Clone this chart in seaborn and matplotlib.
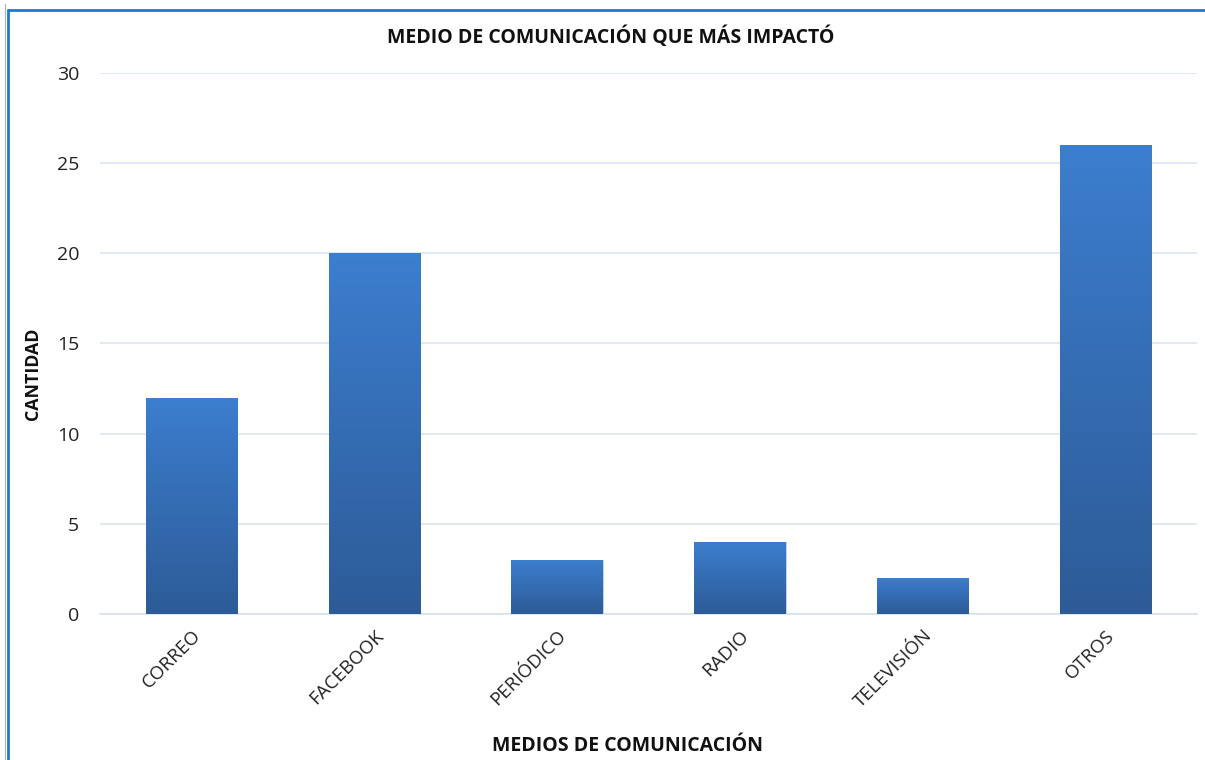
import numpy as np
import pandas as pd
import matplotlib
matplotlib.use("Agg")
import matplotlib.pyplot as plt
import seaborn as sns
from matplotlib.colors import LinearSegmentedColormap
from matplotlib.lines import Line2D

categories = ["CORREO", "FACEBOOK", "PERIÓDICO", "RADIO", "TELEVISIÓN", "OTROS"]
values = [12, 20, 3, 4, 2, 26]
yticks = [0, 5, 10, 15, 20, 25, 30]

title = "MEDIO DE COMUNICACIÓN QUE MÁS IMPACTÓ"
xlabel = "MEDIOS DE COMUNICACIÓN"
ylabel = "CANTIDAD"

sns.set_theme(style="white")
plt.rcParams['font.family'] = ['Open Sans', 'DejaVu Sans']

df = pd.DataFrame({"medio": categories, "cantidad": values})

fig = plt.figure(figsize=(12.05, 7.6), dpi=100)
ax = fig.add_axes([100/1205, 1-614/760, 1097/1205, (614-73)/760])

sns.barplot(data=df, x="medio", y="cantidad", color="#3a78c6", width=0.5,
            ax=ax, saturation=1, zorder=2)

ax.set_ylim(0, 30)
ax.set_yticks(yticks)
ax.yaxis.grid(True, color="#dce6f2", linewidth=1.2, zorder=0)
ax.set_axisbelow(True)
for s in ["top", "right", "left"]:
    ax.spines[s].set_visible(False)
ax.spines["bottom"].set_color("#d5e1f0")
ax.spines["bottom"].set_linewidth(1.2)
ax.tick_params(axis="both", length=0, colors="#222222")
ax.tick_params(axis="y", labelsize=14, pad=15)
ax.tick_params(axis="x", labelsize=13.5, pad=9)
plt.setp(ax.get_xticklabels(), rotation=45, ha="right", rotation_mode="anchor")

# gradient fill of bars
cmap = LinearSegmentedColormap.from_list("g", ["#2d5b97", "#3c7ecf"])
grad = np.linspace(0, 1, 256).reshape(-1, 1)
for p in ax.patches:
    x0, y0 = p.get_x(), p.get_y()
    w, h = p.get_width(), p.get_height()
    p.set_edgecolor("#c9d6e6")
    p.set_linewidth(0.6)
    im = ax.imshow(grad, extent=[x0, x0 + w, y0, y0 + h], origin="lower",
                   cmap=cmap, aspect="auto", zorder=3)
    im.set_clip_path(p)
ax.set_xlim(-0.5, len(categories) - 0.5)
ax.set_ylim(0, 30)

ax.set_xlabel("")
ax.set_ylabel("")
fig.text(611/1205, 1-37/760, title, ha="center", va="center", fontsize=14, fontweight="bold", color="#111111")
fig.text(627/1205, 1-746/760, xlabel, ha="center", va="center", fontsize=14, fontweight="bold", color="#111111")
fig.text(33/1205, 1-374/760, ylabel, ha="center", va="center", rotation=90, fontsize=12.8, fontweight="bold", color="#111111")

# frame borders
fig.add_artist(Line2D([8/1205, 1], [1-10/760, 1-10/760], color="#1f7bd1", linewidth=2, transform=fig.transFigure))
fig.add_artist(Line2D([8/1205, 8/1205], [0, 1-10/760], color="#1f7bd1", linewidth=2, transform=fig.transFigure))
fig.add_artist(Line2D([5/1205, 5/1205], [0, 1-4/760], color="#b0b0b0", linewidth=0.8, transform=fig.transFigure))

fig.savefig("out.png", dpi=100)
